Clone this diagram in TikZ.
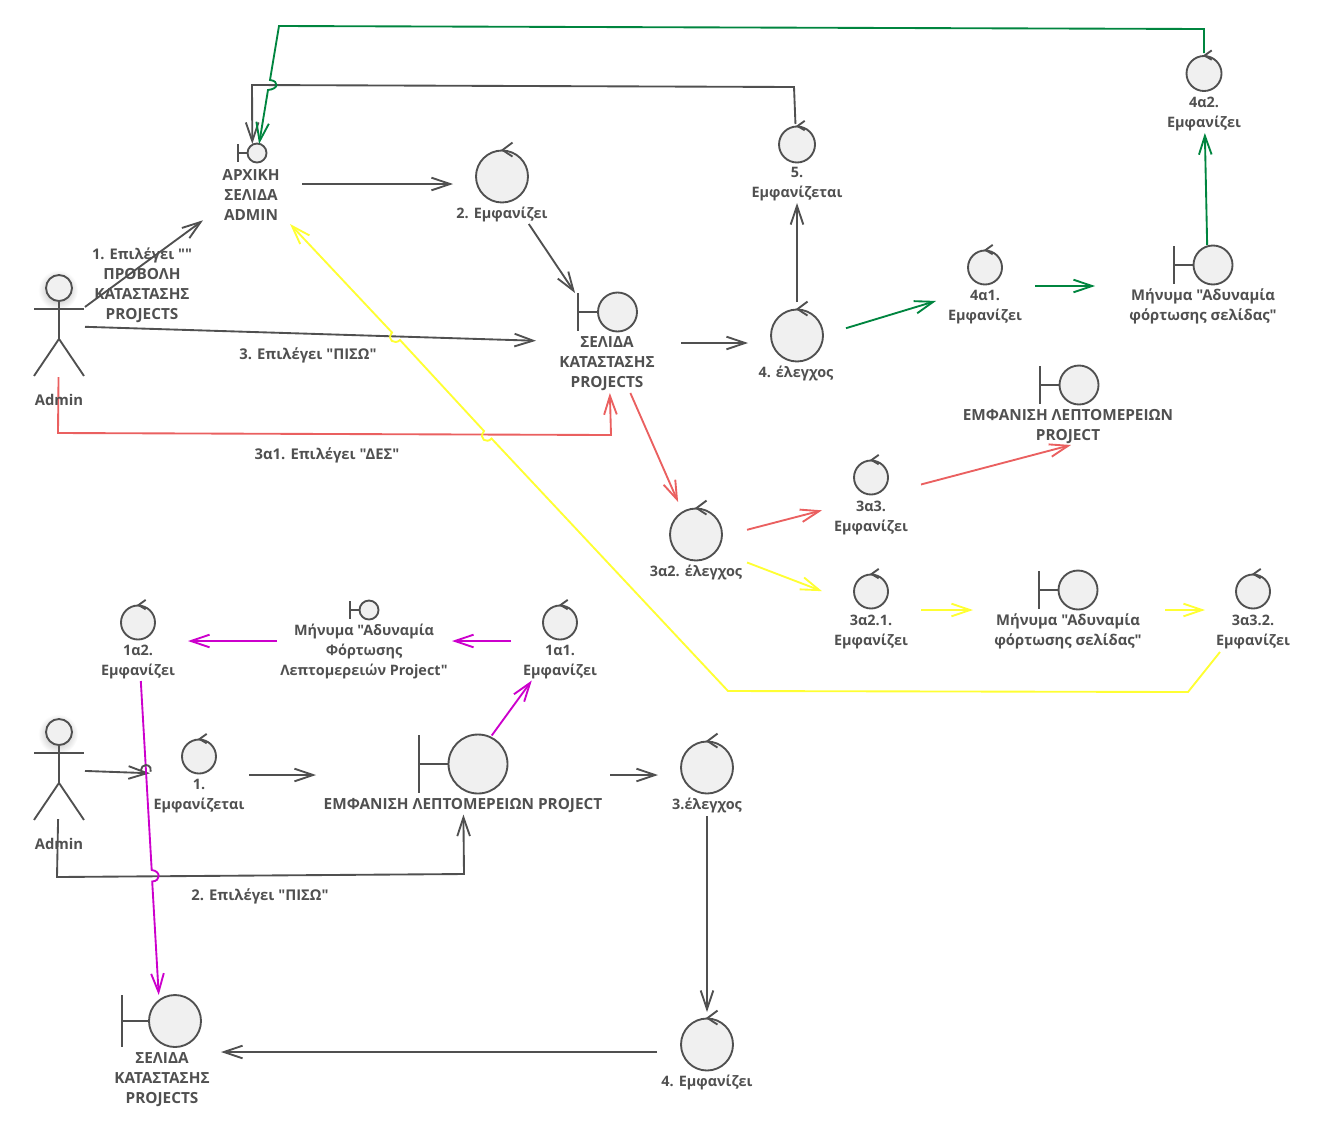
\documentclass[tikz,border=0pt]{standalone}
\usepackage{fontspec}
\setmainfont{Open Sans}[Ligatures=TeXOff]
\usetikzlibrary{
    arrows.meta,
    calc
}
\definecolor{umlGray}{HTML}{505050}
\definecolor{umlFill}{HTML}{F0F0F0}
\definecolor{umlGreen}{HTML}{00853F}
\definecolor{umlRed}{HTML}{EA6060}
\definecolor{umlYellow}{HTML}{FFFF33}
\definecolor{umlMagenta}{HTML}{CC00CC}

\begin{document}
\begin{tikzpicture}[
    x=0.75pt,
    y=-0.75pt,
    every node/.style={
        font=\fontsize{11.5pt}{15pt}\selectfont\bfseries
    },
    box/.style 2 args={
        minimum width=#1*0.75pt,
        minimum height=#2*0.75pt,
        inner sep=0pt,
        outer sep=0pt
    },
    icon/.style={
        circle,
        draw=umlGray,
        fill=umlFill,
        line width=1.4pt,
        inner sep=0pt,
        minimum size=2*#1*0.75pt
    },
    stroke/.style={
        draw=umlGray,
        line width=1.4pt
    },
    caption/.style={
        text=umlGray,
        align=center,
        yshift=-1.2pt
    },
    small caption/.style={
        caption,
        font=\fontsize{10.8pt}{15pt}\selectfont\bfseries
    },
    mixed caption/.style={
        caption,
        font=\fontsize{11.1pt}{15pt}\selectfont\bfseries
    },
    link/.style={
        draw=#1,
        line width=1.4pt,
        -{Straight Barb[length=14pt,width=9.5pt,#1]}
    },
    link/.default=umlGray
]
    \useasboundingbox (0,0) rectangle (1333,1129);

    % Extents the connectors stop at
    \node[box={99}{80}] (arxiki) at (252.5,184) {};
    \node[box={98}{80}] (emfanizei) at (502,184) {};
    \node[box={145}{100}] (selida) at (608.5,343) {};
    \node[box={98}{82}] (elegxos) at (797,343) {};
    \node[box={98}{79}] (emfanizetai) at (797,163.5) {};
    \node[box={52}{102}] (admin) at (59,326) {};
    \node[box={99}{79}] (adynamia) at (985.5,286) {};
    \node[box={226}{82}] (minyma) at (1208,286) {};
    \node[box={98}{80}] (emfanizei4a) at (1204,93) {};
    \node[box={102}{82}] (elegxos3a) at (696,543) {};
    \node[box={99}{79}] (emfanizei3a) at (871.5,497.5) {};
    \node[box={216}{79}] (leptomereies) at (1071,405.5) {};
    \node[box={99}{79}] (emfanizei3b) at (871.5,610) {};
    \node[box={192}{80}] (minyma3a) at (1069,610) {};
    \node[box={97}{84}] (emfanizei3c) at (1253.5,610) {};
    \node[box={99}{80}] (emfanizei1b) at (138.5,641) {};
    \node[box={175}{80}] (minyma1a) at (364.5,641) {};
    \node[box={99}{79}] (emfanizei1a) at (560.5,641) {};
    \node[box={52}{98}] (adminB) at (59,770) {};
    \node[box={99}{79}] (emfanizetaiB) at (199.5,775) {};
    \node[box={294}{79}] (project) at (463,775) {};
    \node[box={98}{82}] (elegxosB) at (707,775) {};
    \node[box={100}{80}] (emfanizeiB) at (707,1052) {};
    \node[box={118}{114}] (selidaB) at (162,1052) {};

    % Control circles
    \node[icon=26] (emfanizeiIcon) at (502,176.5) {};
    \node[icon=26] (elegxosIcon) at (797,335.5) {};
    \node[icon=18] (emfanizetaiIcon) at (797,144.5) {};
    \node[icon=17.5] (emfanizei4aIcon) at (1204,73.5) {};
    \node[icon=17] (adynamiaIcon) at (985,267.5) {};
    \node[icon=17] (emfanizei3aIcon) at (871,477.5) {};
    \node[icon=26] (elegxos3aIcon) at (696,534.5) {};
    \node[icon=17] (emfanizei3bIcon) at (871,591.5) {};
    \node[icon=17] (emfanizei3cIcon) at (1253,591.5) {};
    \node[icon=17] (emfanizei1bIcon) at (138,622.5) {};
    \node[icon=17] (emfanizei1aIcon) at (560,622.5) {};
    \node[icon=17] (emfanizetaiBIcon) at (199,756.5) {};
    \node[icon=26] (elegxosBIcon) at (707,767.5) {};
    \node[icon=26] (emfanizeiBIcon) at (707,1044.5) {};

    \foreach \ctrl/\dx/\dy in {emfanizeiIcon/10.5/7,elegxosIcon/10.5/7,emfanizetaiIcon/7.7/4.7,
        emfanizei4aIcon/7.7/4.7,adynamiaIcon/7.7/4.7,emfanizei3aIcon/7.7/4.7,elegxos3aIcon/10.5/7,
        emfanizei3bIcon/7.7/4.7,emfanizei3cIcon/7.7/4.7,emfanizei1bIcon/7.7/4.7,
        emfanizei1aIcon/7.7/4.7,emfanizetaiBIcon/7.7/4.7,elegxosBIcon/10.5/7,emfanizeiBIcon/10.5/7}
        \draw[stroke]
            ($(\ctrl.north)+(\dx,-\dy)$)
            -- ($(\ctrl.north)+(0.5,0.5)$)
            -- ($(\ctrl.north)+(\dx,\dy)$);

    % Boundary circles
    \node[icon=9.5] (arxikiIcon) at (257,153) {};
    \node[icon=19.5] (selidaIcon) at (617.5,312) {};
    \node[icon=19.5] (minymaIcon) at (1213,265) {};
    \node[icon=19.5] (leptomereiesIcon) at (1079,385) {};
    \node[icon=19.5] (minyma3aIcon) at (1078,590) {};
    \node[icon=9.5] (minyma1aIcon) at (369,610) {};
    \node[icon=29.5] (projectIcon) at (478,764) {};
    \node[icon=26] (selidaBIcon) at (175,1021) {};

    \foreach \bound/\rad in {arxikiIcon/9,selidaIcon/19,minymaIcon/19,leptomereiesIcon/19,
        minyma3aIcon/19,minyma1aIcon/9,projectIcon/29,selidaBIcon/26}
        \draw[stroke]
            (\bound.west) -- ++(-\rad,0)
            ++(0,-\rad) -- ++(0,2*\rad);

    % Actors
    \foreach \who/\top in {A/288,B/732}{
        \shade[inner color=black!35, outer color=white, draw=none]
            (59,\top) ++(-1,2) circle (20);
        \node[icon=13] (head\who) at (59,\top) {};
        \draw[stroke]
            (head\who.south) -- ++(0,37)
            ++(-25,37) -- ++(25,-37) -- ++(25,37);
        \draw[stroke]
            ($(head\who.south)+(-25,7)$) -- ++(50,0);
    }

    % Gray flows
    \draw[link] (admin) -- (arxiki);
    \draw[link] (admin) -- (selida);
    \draw[link] (arxiki) -- (emfanizei);
    \draw[link] (emfanizei) -- (selida);
    \draw[link] (selida) -- (elegxos);
    \draw[link] (elegxos) -- (emfanizetai);
    \draw[link] (emfanizetai) -- (794,87) -- (252,85) -- (arxiki);

    % Green flows
    \draw[link=umlGreen] (elegxos) -- (adynamia);
    \draw[link=umlGreen] (adynamia) -- (minyma);
    \draw[link=umlGreen] (minyma) -- (emfanizei4a);
    \draw[link=umlGreen]
        (emfanizei4a) -- (1204,29) -- (279,26) -- (270,80)
        .. controls (279,81) and (279,89) .. (268,90)
        -- (arxiki);

    % Red flows
    \draw[link=umlRed] (admin) -- (58,433) -- (611,435) -- (selida);
    \draw[link=umlRed] (selida) -- (elegxos3a);
    \draw[link=umlRed] (elegxos3a) -- (emfanizei3a);
    \draw[link=umlRed] (emfanizei3a) -- (leptomereies.south);

    % Yellow flows
    \draw[link=umlYellow] (elegxos3a) -- (emfanizei3b);
    \draw[link=umlYellow] (emfanizei3b) -- (minyma3a);
    \draw[link=umlYellow] (minyma3a) -- (emfanizei3c);
    \draw[link=umlYellow]
        (emfanizei3c) -- (1188,692) -- (728,691) -- (491.5,438.5)
        .. controls (487,444) and (478,439) .. (484,431)
        -- (400,340)
        .. controls (395,345) and (386,340) .. (392,332.5)
        -- (arxiki);

    % Lower diagram
    \draw[link] (adminB) -- (emfanizetaiB);
    \draw[link] (emfanizetaiB) -- (project);
    \draw[link] (adminB) -- (57,877) -- (464,874) -- (project);
    \draw[link] (project) -- (elegxosB);
    \draw[link] (elegxosB) -- (emfanizeiB);
    \draw[link] (emfanizeiB) -- (selidaB);
    \draw[link=umlMagenta] (project) -- (emfanizei1a);
    \draw[link=umlMagenta] (emfanizei1a) -- (minyma1a);
    \draw[link=umlMagenta] (minyma1a) -- (emfanizei1b);
    \draw[link=umlMagenta]
        (emfanizei1b) -- (151.7,870)
        .. controls (161,871) and (161,881) .. (152.2,881.5)
        -- (selidaB);
    \draw[stroke] (141,770) arc (180:380:5);

    % Element captions
    \node[caption] (arxikiText) at (251,193) {ΑΡΧΙΚΗ\\ΣΕΛΙΔΑ\\ADMIN};
    \node[small caption] (emfanizeiText) at (502,213) {2. Εμφανίζει};
    \node[caption] (selidaText) at (607,362) {ΣΕΛΙΔΑ\\ΚΑΤΑΣΤΑΣΗΣ\\PROJECTS};
    \node[small caption] (elegxosText) at (796,372) {4. έλεγχος};
    \node[small caption] (emfanizetaiText) at (797,182) {5.\\Εμφανίζεται};
    \node[small caption] (adynamiaText) at (985,305) {4α1.\\Εμφανίζει};
    \node[mixed caption] (minymaText) at (1203,305) {Μήνυμα "Αδυναμία\\φόρτωσης σελίδας"};
    \node[small caption] (emfanizei4aText) at (1204,112) {4α2.\\Εμφανίζει};
    \node[caption] (leptomereiesText) at (1068,425) {ΕΜΦΑΝΙΣΗ ΛΕΠΤΟΜΕΡΕΙΩΝ\\PROJECT};
    \node[small caption] (emfanizei3aText) at (871,516) {3α3.\\Εμφανίζει};
    \node[small caption] (elegxos3aText) at (696,571) {3α2. έλεγχος};
    \node[small caption] (emfanizei3bText) at (871,630) {3α2.1.\\Εμφανίζει};
    \node[mixed caption] (minyma3aText) at (1068,630) {Μήνυμα "Αδυναμία\\φόρτωσης σελίδας"};
    \node[small caption] (emfanizei3cText) at (1253,630) {3α3.2.\\Εμφανίζει};
    \node[small caption] (emfanizei1bText) at (138,660) {1α2.\\Εμφανίζει};
    \node[small caption] (minyma1aText) at (364,650) {Μήνυμα "Αδυναμία\\Φόρτωσης\\Λεπτομερειών Project"};
    \node[small caption] (emfanizei1aText) at (560,660) {1α1.\\Εμφανίζει};
    \node[small caption] (emfanizetaiBText) at (199,794) {1.\\Εμφανίζεται};
    \node[caption] (projectText) at (463,804) {ΕΜΦΑΝΙΣΗ ΛΕΠΤΟΜΕΡΕΙΩΝ PROJECT};
    \node[small caption] (elegxosBText) at (707,804) {3.έλεγχος};
    \node[small caption] (emfanizeiBText) at (707,1081) {4. Εμφανίζει};
    \node[caption] (selidaBText) at (162,1078) {ΣΕΛΙΔΑ\\ΚΑΤΑΣΤΑΣΗΣ\\PROJECTS};
    \node[mixed caption] (adminText) at (59,398) {Admin};
    \node[mixed caption] (adminBText) at (59,842) {Admin};

    % Connector captions
    \node[caption] (provoliText) at (142,284) {\fontsize{11pt}{15pt}\selectfont 1. Επιλέγει ""\\ΠΡΟΒΟΛΗ\\ΚΑΤΑΣΤΑΣΗΣ\\PROJECTS};
    \node[mixed caption] (pisoText) at (308,354) {3. Επιλέγει "ΠΙΣΩ"};
    \node[mixed caption] (desText) at (327,454) {3α1. Επιλέγει "ΔΕΣ"};
    \node[mixed caption] (pisoBText) at (260,895) {2. Επιλέγει "ΠΙΣΩ"};

\end{tikzpicture}
\end{document}
